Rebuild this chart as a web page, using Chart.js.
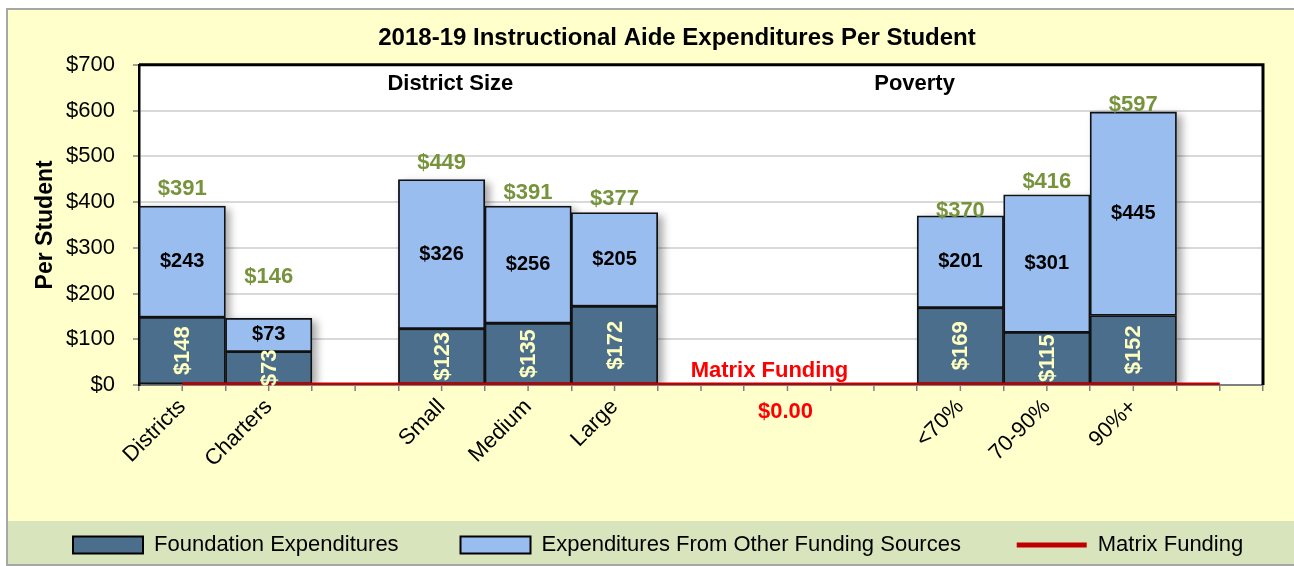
<!DOCTYPE html>
<html><head><meta charset="utf-8">
<script src="https://cdn.jsdelivr.net/npm/chart.js@4.4.1/dist/chart.umd.min.js"></script>
<style>html,body{margin:0;padding:0;background:#fff;overflow:hidden}</style>
</head><body>
<canvas id="c" width="1294" height="566" style="display:block;width:1294px;height:566px"></canvas>
<script>
// ---- data ----
const categories = ['Districts','Charters','','Small','Medium','Large','','','','<70%','70-90%','90%+',''];
const foundation = [148,73,null,123,135,172,null,null,null,169,115,152,null];
const otherSources = [243,73,null,326,256,205,null,null,null,201,301,445,null];
const totals = [391,146,null,449,391,377,null,null,null,370,416,597,null];
const matrixFunding = [0,0,0,0,0,0,0,0,0,0,0,0,0];
const matrixLabel = 'Matrix Funding';
const matrixValueLabel = '$0.00';
const sectionLabels = ['District Size','Poverty'];
const titleText = '2018-19 Instructional Aide Expenditures Per Student';

const FONT = "'Liberation Sans', Arial, Helvetica, sans-serif";
Chart.defaults.font.family = FONT;
Chart.defaults.color = '#000';

const frame = {
  id: 'frame',
  beforeDraw(chart) {
    const {ctx, chartArea: a, width, height} = chart;
    const lg = chart.legend;
    ctx.save();
    ctx.fillStyle = '#ffffff'; ctx.fillRect(0, 0, width, height);
    ctx.fillStyle = '#ffffcc'; ctx.fillRect(6, 8, width - 6, height - 8);
    ctx.fillStyle = '#d8e4bc'; ctx.fillRect(6, lg.top, width - 6, height - lg.top);
    ctx.strokeStyle = '#a6a6a6'; ctx.lineWidth = 2;
    ctx.beginPath(); ctx.moveTo(7, height); ctx.lineTo(7, 9); ctx.lineTo(width, 9); ctx.stroke();
    ctx.beginPath(); ctx.moveTo(7, height - 1); ctx.lineTo(width, height - 1); ctx.stroke();
    ctx.fillStyle = '#ffffff'; ctx.fillRect(a.left, a.top, a.width, a.height);
    ctx.restore();
  }
};

const shadows = {
  id: 'shadows',
  beforeDatasetsDraw(chart) {
    const {ctx, chartArea: a} = chart;
    ctx.save();
    ctx.beginPath(); ctx.rect(a.left, a.top, a.width + 20, a.height); ctx.clip();
    ctx.shadowColor = 'rgba(0,0,0,0.35)'; ctx.shadowBlur = 8; ctx.shadowOffsetX = 5; ctx.shadowOffsetY = 3;
    ctx.fillStyle = '#ffffff';
    chart.data.datasets.forEach((ds, i) => {
      if (ds.type === 'line') return;
      chart.getDatasetMeta(i).data.forEach(el => {
        const {x, y, base, width} = el.getProps(['x', 'y', 'base', 'width'], true);
        if (!isFinite(y) || !isFinite(base)) return;
        ctx.fillRect(x - width / 2, Math.min(y, base), width, Math.abs(base - y));
      });
    });
    ctx.restore();
  }
};

const valueLabels = {
  id: 'valueLabels',
  afterDatasetsDraw(chart, args, opts) {
    const {ctx, chartArea: a, scales} = chart;
    const m0 = chart.getDatasetMeta(0), m1 = chart.getDatasetMeta(1);
    ctx.save();
    // plot frame (top & right)
    ctx.strokeStyle = '#000'; ctx.lineWidth = 3;
    ctx.beginPath(); ctx.moveTo(a.left, a.top); ctx.lineTo(a.right, a.top); ctx.lineTo(a.right, a.bottom); ctx.stroke();
    ctx.textAlign = 'center'; ctx.textBaseline = 'middle';
    categories.forEach((c, i) => {
      if (foundation[i] == null) return;
      const b0 = m0.data[i], b1 = m1.data[i];
      ctx.save();
      ctx.translate(b0.x, (b0.y + b0.base) / 2);
      ctx.rotate(-Math.PI / 2);
      ctx.font = 'bold 22px ' + FONT; ctx.fillStyle = '#ffffc0';
      ctx.fillText('$' + foundation[i], 0, 1);
      ctx.restore();
      ctx.font = 'bold 20px ' + FONT; ctx.fillStyle = '#000';
      ctx.fillText('$' + otherSources[i], b1.x, (b1.y + b1.base) / 2);
      ctx.font = 'bold 22px ' + FONT; ctx.fillStyle = '#77933c';
      ctx.fillText('$' + totals[i], b1.x, b1.y - opts.raise[i]);
    });
    // section labels
    ctx.font = 'bold 22px ' + FONT; ctx.fillStyle = '#000';
    opts.sectionAt.forEach((f, k) => ctx.fillText(sectionLabels[k], a.left + f * a.width, a.top + 19));
    // matrix funding labels
    const xm = scales.x.getPixelForValue(opts.matrixIndex);
    const y0 = scales.y.getPixelForValue(0);
    ctx.fillStyle = '#ff0000';
    ctx.fillText(matrixLabel, xm - 18, y0 - 14);
    ctx.fillText(matrixValueLabel, xm - 2, y0 + 27);
    // minor ticks at category centres
    ctx.strokeStyle = '#808080'; ctx.lineWidth = 1.5;
    categories.forEach((c, i) => {
      const x = scales.x.getPixelForValue(i);
      ctx.beginPath(); ctx.moveTo(x, a.bottom); ctx.lineTo(x, a.bottom + 6); ctx.stroke();
    });
    ctx.restore();
  }
};

const pad = n => ' '.repeat(n);

new Chart(document.getElementById('c'), {
  type: 'bar',
  data: {
    labels: categories,
    datasets: [
      {label: 'Foundation Expenditures', data: foundation, backgroundColor: '#4a6e8c', borderColor: '#111', borderWidth: 1.8, borderSkipped: false, stack: 's', order: 1, barPercentage: 1, categoryPercentage: 1},
      {label: 'Expenditures From Other Funding Sources', data: otherSources, backgroundColor: '#99bdee', borderColor: '#111', borderWidth: 1.8, borderSkipped: false, stack: 's', order: 1, barPercentage: 1, categoryPercentage: 1},
      {type: 'line', label: 'Matrix Funding', data: matrixFunding, borderColor: '#c00000', borderWidth: 5, pointRadius: 0, fill: false, order: 0}
    ]
  },
  options: {
    responsive: false, animation: false, devicePixelRatio: 1,
    layout: {padding: {left: 60, right: 0, top: 0, bottom: 0}},
    plugins: {
      title: {display: true, text: titleText, font: {size: 24, weight: 'bold', family: FONT}, color: '#000', padding: {top: 24, bottom: 12}},
      legend: {
        position: 'bottom', align: 'start',
        labels: {
          usePointStyle: true, pointStyleWidth: 70, boxHeight: 17, padding: 13,
          font: {size: 22, family: FONT}, color: '#000',
          generateLabels(chart) {
            const ds = chart.data.datasets;
            return [
              {text: ds[0].label + pad(8), fillStyle: ds[0].backgroundColor, strokeStyle: '#000', lineWidth: 2, pointStyle: 'rect', datasetIndex: 0, hidden: false},
              {text: ds[1].label + pad(7), fillStyle: ds[1].backgroundColor, strokeStyle: '#000', lineWidth: 2, pointStyle: 'rect', datasetIndex: 1, hidden: false},
              {text: ds[2].label, fillStyle: ds[2].borderColor, strokeStyle: ds[2].borderColor, lineWidth: 5, pointStyle: 'line', datasetIndex: 2, hidden: false}
            ];
          }
        }
      },
      tooltip: {enabled: false},
      valueLabels: {raise: [17, 41, 0, 17, 13, 14, 0, 0, 0, 5, 13, 7, 0], sectionAt: [0.277, 0.69], matrixIndex: 7}
    },
    scales: {
      x: {
        stacked: true,
        grid: {display: true, drawOnChartArea: false, tickLength: 6, color: '#808080', lineWidth: 1.5},
        border: {color: '#808080', width: 2},
        ticks: {autoSkip: false, minRotation: 45, maxRotation: 45, padding: 3, font: {size: 22}, color: '#000'},
        afterFit(s) { s.height = 136; }
      },
      y: {
        stacked: true, min: 0, max: 700,
        ticks: {stepSize: 100, callback: v => '$' + v, padding: 18, font: {size: 22}, color: '#000'},
        grid: {color: '#d9d9d9', lineWidth: 2, tickLength: 6, tickColor: '#808080', tickWidth: 1.5},
        border: {color: '#000', width: 2.5},
        title: {display: true, text: 'Per Student', font: {size: 23, weight: 'bold'}, color: '#000', padding: {top: -28, bottom: 0}},
        afterFit(s) { s.width = 79; }
      },
      y2: {
        position: 'right', display: true,
        grid: {display: false, drawTicks: false}, border: {display: false}, ticks: {display: false},
        afterFit(s) { s.width = 31; }
      }
    }
  },
  plugins: [frame, shadows, valueLabels]
});
</script>
</body></html>
